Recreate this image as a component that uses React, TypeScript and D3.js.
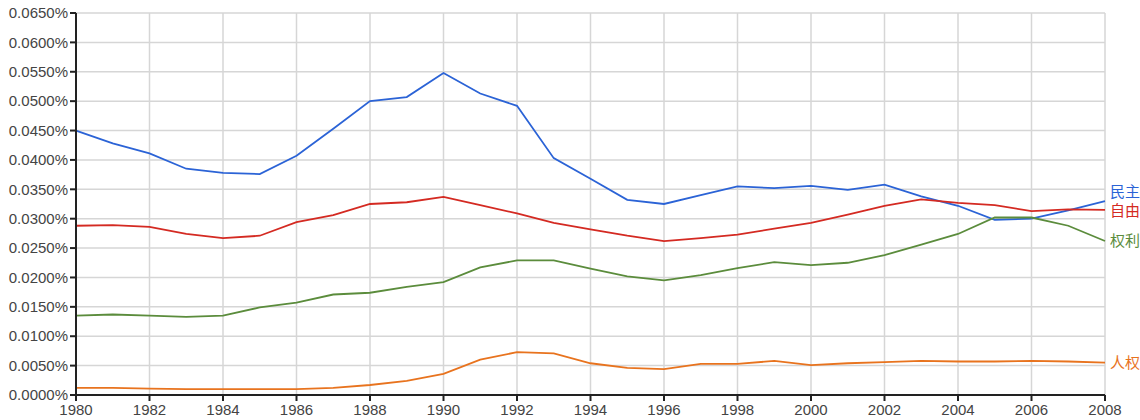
import React from "react";
import * as d3 from "d3";

const years = d3.range(1980, 2009);
const minzhu = [0.0450,0.0428,0.0411,0.0385,0.0378,0.0376,0.0407,0.0453,0.0500,0.0507,0.0548,0.0513,0.0492,0.0403,0.0368,0.0332,0.0325,0.0340,0.0355,0.0352,0.0356,0.0349,0.0358,0.0338,0.0322,0.0298,0.0300,0.0314,0.0330];
const ziyou = [0.0288,0.0289,0.0286,0.0274,0.0267,0.0271,0.0294,0.0306,0.0325,0.0328,0.0337,0.0323,0.0309,0.0293,0.0282,0.0271,0.0262,0.0267,0.0273,0.0283,0.0293,0.0307,0.0322,0.0333,0.0327,0.0323,0.0313,0.0316,0.0315];
const quanli = [0.0135,0.0137,0.0135,0.0133,0.0135,0.0149,0.0157,0.0171,0.0174,0.0184,0.0192,0.0217,0.0229,0.0229,0.0215,0.0202,0.0195,0.0204,0.0216,0.0226,0.0221,0.0225,0.0238,0.0256,0.0274,0.0302,0.0302,0.0288,0.0262];
const renquan = [0.0012,0.0012,0.0011,0.0010,0.0010,0.0010,0.0010,0.0012,0.0017,0.0024,0.0036,0.0060,0.0073,0.0071,0.0054,0.0046,0.0044,0.0053,0.0053,0.0058,0.0051,0.0054,0.0056,0.0058,0.0057,0.0057,0.0058,0.0057,0.0055];

const seriesNames = ["民主", "自由", "权利", "人权"];
const seriesValues = [minzhu, ziyou, quanli, renquan];
const seriesColors = ["#2b63d6", "#d42a22", "#5b8c3c", "#e8731e"];
const labelOffsets = [-9, 1, 0, 0];

const yTicks = d3.range(0, 0.0651, 0.005);
const xTicks = d3.range(1980, 2009, 2);

export default function App() {
  const W = 1140, H = 420;
  const left = 76, right = 1105, top = 13, bottom = 395;
  const x = d3.scaleLinear().domain([1980, 2008]).range([left, right]);
  const y = d3.scaleLinear().domain([0, 0.065]).range([bottom, top]);
  const line = d3.line<number>().x((_, i) => x(years[i])).y((d) => y(d));
  const font = "'Liberation Sans', Arial, sans-serif";
  return (
    <svg width={W} height={H} style={{ position: "absolute", left: 0, top: 0, background: "#fff" }}>
      {yTicks.map((t) => (
        <line key={"gy" + t} x1={left} x2={right} y1={y(t)} y2={y(t)} stroke="#d6d6d6" strokeWidth={1.5} />
      ))}
      {xTicks.map((t) => (
        <line key={"gx" + t} x1={x(t)} x2={x(t)} y1={top} y2={bottom} stroke="#d6d6d6" strokeWidth={1.5} />
      ))}
      {seriesValues.map((vals, i) => (
        <path key={"s" + i} d={line(vals) || ""} fill="none" stroke={seriesColors[i]} strokeWidth={1.8} />
      ))}
      <line x1={left} x2={left} y1={top} y2={bottom} stroke="#222" strokeWidth={2} />
      <line x1={left} x2={right} y1={bottom} y2={bottom} stroke="#222" strokeWidth={2} />
      {yTicks.map((t) => (
        <g key={"ty" + t}>
          <line x1={left - 6} x2={left} y1={y(t)} y2={y(t)} stroke="#222" strokeWidth={2} />
          <text x={left - 8} y={y(t)} dy="0.35em" textAnchor="end" fontFamily={font} fontSize={15} fill="#444">
            {t.toFixed(4) + "%"}
          </text>
        </g>
      ))}
      {xTicks.map((t) => (
        <g key={"tx" + t}>
          <line x1={x(t)} x2={x(t)} y1={bottom} y2={bottom + 6} stroke="#222" strokeWidth={2} />
          <text x={x(t)} y={bottom + 20} textAnchor="middle" fontFamily={font} fontSize={15} fill="#444">
            {t}
          </text>
        </g>
      ))}
      {seriesValues.map((vals, i) => (
        <text key={"l" + i} x={right + 5} y={y(vals[vals.length - 1]) + labelOffsets[i]} dy="0.35em"
          fontFamily="'Noto Sans CJK SC', sans-serif" fontSize={15} fill={seriesColors[i]}>
          {seriesNames[i]}
        </text>
      ))}
    </svg>
  );
}
